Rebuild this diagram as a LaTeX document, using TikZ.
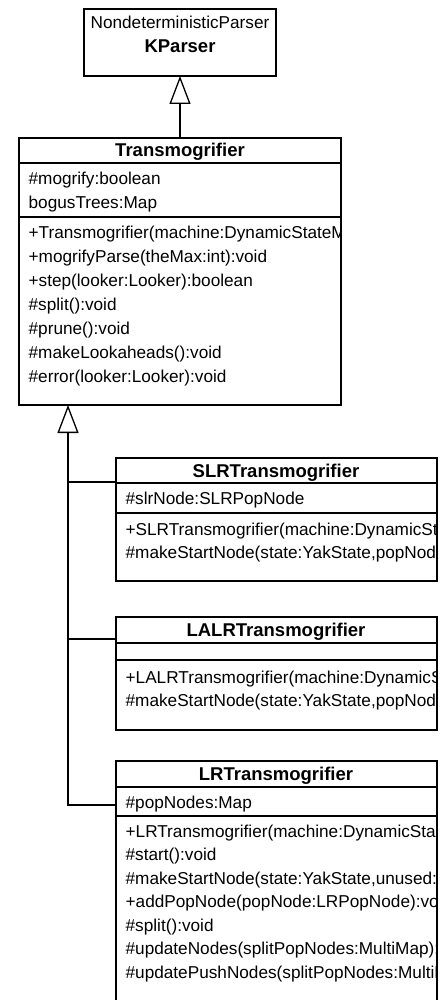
\documentclass[tikz,border=0pt]{standalone}
\usepackage{fontspec}
\setmainfont{Liberation Sans}
\usetikzlibrary{arrows.meta,positioning}

\begin{document}
\begin{tikzpicture}[x=1pt, y=-1pt, line width=1.3pt,
    classbox/.style={draw, anchor=north west, inner sep=0pt, outer sep=0pt},
    member/.style={anchor=base west, inner sep=0pt, font=\fontsize{17.2}{21}\selectfont},
    cname/.style={anchor=base, inner sep=0pt, font=\fontsize{18.5}{21}\selectfont\bfseries},
    inherit/.style={-{Triangle[open, length=28pt, width=21pt, fill=white]}}]

\clip (0,0) rectangle (442,1000);

% Classes
\node[classbox, minimum width=192pt, minimum height=67pt] (kparser) at (84,9) {};
\node[classbox, minimum width=322pt, minimum height=267pt] (trans) at (19,138) {};
\node[classbox, minimum width=321pt, minimum height=123pt] (slr) at (116,458) {};
\node[classbox, minimum width=321pt, minimum height=113pt] (lalr) at (116,617) {};
\node[classbox, minimum width=321pt, minimum height=249pt] (lr) at (116,761) {};

% Compartments
\draw (19,163) -- (341,163);
\draw (19,217) -- (341,217);
\draw (116,483) -- (437,483);
\draw (116,513) -- (437,513);
\draw (116,643) -- (437,643);
\draw (116,660) -- (437,660);
\draw (116,787) -- (437,787);
\draw (116,816) -- (437,816);

% KParser
\node[member, anchor=base] (kpstereo) at (180,29) {NondeterministicParser};
\node[cname] (kpname) at (180,53) {KParser};

% Transmogrifier
\begin{scope}
\clip (trans.north west) rectangle (trans.south east);
\node[cname] (trname) at (180,157) {Transmogrifier};
\node[member] (tra1) at (28,185) {\#mogrify:boolean};
\node[member] (tra2) at (28,209) {bogusTrees:Map};
\node[member] (trm1) at (28,238) {+Transmogrifier(machine:DynamicStateM};
\node[member] (trm2) at (28,262) {+mogrifyParse(theMax:int):void};
\node[member] (trm3) at (28,286) {+step(looker:Looker):boolean};
\node[member] (trm4) at (28,310) {\#split():void};
\node[member] (trm5) at (28,334) {\#prune():void};
\node[member] (trm6) at (28,358) {\#makeLookaheads():void};
\node[member] (trm7) at (28,382) {\#error(looker:Looker):void};
\end{scope}

% SLRTransmogrifier
\begin{scope}
\clip (slr.north west) rectangle (slr.south east);
\node[cname] (slrname) at (276,477) {SLRTransmogrifier};
\node[member] (slra1) at (125,504) {\#slrNode:SLRPopNode};
\node[member] (slrm1) at (125,535) {+SLRTransmogrifier(machine:DynamicSt};
\node[member] (slrm2) at (125,558) {\#makeStartNode(state:YakState,popNod};
\end{scope}

% LALRTransmogrifier
\begin{scope}
\clip (lalr.north west) rectangle (lalr.south east);
\node[cname] (lalrname) at (276,636) {LALRTransmogrifier};
\node[member] (lalrm1) at (125,683) {+LALRTransmogrifier(machine:DynamicS};
\node[member] (lalrm2) at (125,706) {\#makeStartNode(state:YakState,popNod};
\end{scope}

% LRTransmogrifier
\begin{scope}
\clip (lr.north west) rectangle (lr.south east);
\node[cname] (lrname) at (276,780) {LRTransmogrifier};
\node[member] (lra1) at (125,808) {\#popNodes:Map};
\node[member] (lrm1) at (125,837) {+LRTransmogrifier(machine:DynamicStat};
\node[member] (lrm2) at (125,860.5) {\#start():void};
\node[member] (lrm3) at (125,884) {\#makeStartNode(state:YakState,unused:};
\node[member] (lrm4) at (125,907.5) {+addPopNode(popNode:LRPopNode):voi};
\node[member] (lrm5) at (125,931) {\#split():void};
\node[member] (lrm6) at (125,954.5) {\#updateNodes(splitPopNodes:MultiMap):v};
\node[member] (lrm7) at (125,978) {\#updatePushNodes(splitPopNodes:MultiM};
\end{scope}

% Generalizations
\coordinate (tfoot) at (68,405);
\coordinate (slrin) at (116,482);
\coordinate (lalrin) at (116,639);
\coordinate (lrin) at (116,805);
\draw[inherit] (trans.north) -- (kparser.south);
\draw[inherit] (lrin) -| (tfoot);
\draw (slrin) -- (slrin -| tfoot);
\draw (lalrin) -- (lalrin -| tfoot);
\end{tikzpicture}
\end{document}
